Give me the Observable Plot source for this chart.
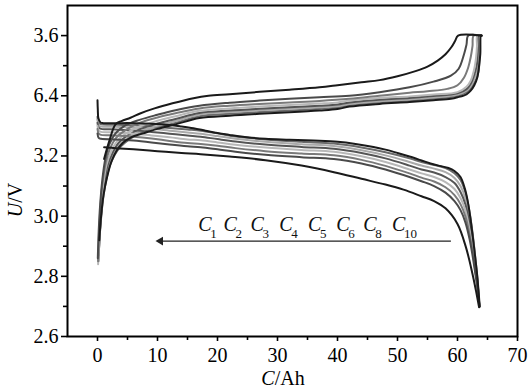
<!DOCTYPE html>
<html><head><meta charset="utf-8">
<script src="https://cdn.jsdelivr.net/npm/d3@7"></script>
<script src="https://cdn.jsdelivr.net/npm/@observablehq/plot@0.6"></script>
<style>html,body{margin:0;padding:0;background:#fff;} svg text{font-family:"Liberation Serif","DejaVu Serif",serif;}</style>
</head><body><div id="chart"></div>
<script>
// ---- data (capacity Ah, voltage V) ----
const rates = ["C1","C2","C3","C4","C5","C6","C8","C10"];
const rateColors = ["#1a1a1a","#6a6a6a","#aaaaaa","#555555","#b8b8b8","#7a7a7a","#4a4a4a","#1a1a1a"];

const chargeC10 = [[1.1,3.19],[2.0,3.252],[3.0,3.305],[4.0,3.316],[5.5,3.327],[7.2,3.342],[9.5,3.358],[12.5,3.375],[16,3.392],[18.5,3.40],[22,3.405],[27,3.413],[32,3.42],[37,3.428],[40,3.435],[44,3.445],[47,3.452],[50,3.465],[53,3.482],[55,3.497],[56.7,3.517],[58,3.538],[59,3.562],[59.6,3.582],[60.1,3.6],[64.0,3.6]];
const chargeC8 = [[0.05,2.86],[0.2,2.95],[0.45,3.04],[0.8,3.12],[1.3,3.19],[2.0,3.24],[3.0,3.275],[4.5,3.30],[7,3.32],[10,3.337],[13,3.352],[17,3.367],[22,3.377],[27,3.384],[32,3.39],[37,3.395],[42,3.40],[47,3.412],[52,3.428],[56,3.447],[58.9,3.467],[60.2,3.49],[61.1,3.539],[61.5,3.57],[61.8,3.6],[64,3.6]];
const chargeC6 = [[0.1,2.85],[0.3,2.96],[0.55,3.05],[0.9,3.12],[1.4,3.18],[2.1,3.225],[3.1,3.26],[4.6,3.285],[7,3.31],[10,3.328],[13,3.342],[17,3.358],[22,3.367],[27,3.373],[32,3.378],[37,3.383],[42,3.39],[47,3.40],[52,3.41],[55,3.415],[58.3,3.423],[60,3.435],[61.1,3.461],[61.8,3.495],[62.2,3.528],[62.5,3.565],[62.7,3.6],[64,3.6]];
const chargeC5 = [[0.1,2.84],[0.35,2.95],[0.65,3.04],[1.0,3.11],[1.5,3.17],[2.3,3.215],[3.3,3.25],[4.8,3.275],[7,3.298],[10,3.317],[13,3.332],[17,3.35],[22,3.358],[27,3.364],[32,3.369],[37,3.374],[40,3.378],[42,3.384],[47,3.393],[52,3.398],[56,3.404],[60,3.412],[61.5,3.43],[62.2,3.45],[62.8,3.49],[63.1,3.528],[63.25,3.565],[63.3,3.6],[64,3.6]];
const chargeC4 = [[0.15,2.85],[0.4,2.95],[0.75,3.04],[1.15,3.11],[1.7,3.17],[2.5,3.21],[3.5,3.243],[5,3.268],[7.2,3.29],[10,3.308],[13,3.323],[17,3.343],[22,3.351],[27,3.357],[32,3.362],[37,3.367],[40,3.371],[42,3.378],[47,3.387],[52,3.393],[56,3.399],[60,3.408],[61.5,3.422],[62.2,3.44],[62.8,3.47],[63.2,3.5],[63.4,3.55],[63.5,3.6],[64,3.6]];
const chargeC3 = [[0.2,2.87],[0.45,2.96],[0.85,3.05],[1.3,3.115],[1.9,3.17],[2.7,3.205],[3.7,3.237],[5.2,3.262],[7.4,3.284],[10,3.30],[13,3.316],[17,3.338],[22,3.346],[27,3.352],[32,3.357],[37,3.362],[40,3.366],[42,3.373],[47,3.382],[52,3.388],[56,3.394],[60,3.404],[61.5,3.417],[62.2,3.432],[62.9,3.46],[63.4,3.49],[63.6,3.55],[63.7,3.6],[64,3.6]];
const chargeC2 = [[0.25,2.89],[0.5,2.97],[0.95,3.06],[1.45,3.12],[2.1,3.17],[2.9,3.205],[3.9,3.232],[5.4,3.257],[7.5,3.279],[10,3.295],[13,3.31],[17,3.332],[22,3.34],[27,3.346],[32,3.351],[37,3.357],[40,3.361],[42,3.369],[47,3.378],[52,3.384],[56,3.39],[60,3.40],[61.5,3.412],[62.2,3.425],[63,3.45],[63.5,3.48],[63.7,3.54],[63.8,3.6],[64,3.6]];
const chargeC1 = [[0.3,2.92],[0.6,3.0],[1.0,3.07],[1.6,3.13],[2.3,3.18],[3.2,3.218],[4.2,3.243],[5.6,3.262],[7.6,3.275],[10,3.29],[13,3.305],[17,3.326],[22,3.334],[27,3.34],[32,3.345],[37,3.351],[40,3.356],[42,3.364],[47,3.373],[52,3.379],[56,3.385],[58.9,3.39],[60,3.395],[61.5,3.405],[62.2,3.417],[62.8,3.435],[63.3,3.461],[63.6,3.5],[63.8,3.539],[63.9,3.6],[64,3.6]];

const dischargeC1 = [[0,3.385],[0.05,3.355],[0.15,3.325],[0.5,3.311],[1,3.309],[3,3.309],[6,3.309],[9,3.307],[12,3.303],[14,3.298],[16,3.292],[18,3.284],[20,3.276],[22,3.27],[25,3.262],[28,3.257],[32,3.254],[36,3.251],[40,3.247],[43,3.24],[46,3.23],[48,3.221],[50,3.21],[52,3.198],[54,3.185],[55.5,3.175],[57,3.167],[58.5,3.16],[59.5,3.15],[60.5,3.13],[61.2,3.093],[61.7,3.05],[62.1,3.0],[62.5,2.94],[63.0,2.855],[63.3,2.8],[63.7,2.7]];
const dischargeC2 = [[0,3.33],[0.2,3.31],[0.6,3.305],[3,3.304],[6,3.302],[9,3.298],[12,3.293],[15,3.288],[17.2,3.284],[20,3.275],[23,3.265],[28,3.255],[34,3.247],[39.4,3.241],[44,3.228],[48,3.212],[52,3.192],[54,3.18],[56.1,3.17],[58,3.16],[59.5,3.143],[60.5,3.12],[61.3,3.08],[62,3.015],[62.5,2.945],[63,2.855],[63.3,2.795],[63.65,2.7]];
const dischargeC3 = [[0,3.32],[0.2,3.302],[0.6,3.298],[3,3.297],[6,3.294],[9,3.29],[12,3.284],[15,3.278],[17.2,3.274],[20,3.266],[23,3.257],[28,3.247],[34,3.239],[39.4,3.233],[44,3.219],[48,3.202],[52,3.18],[54,3.168],[56.1,3.158],[58,3.146],[59.5,3.127],[60.5,3.1],[61.3,3.06],[62,2.995],[62.5,2.93],[63,2.845],[63.3,2.79],[63.65,2.7]];
const dischargeC4 = [[0,3.31],[0.2,3.294],[0.6,3.29],[3,3.288],[6,3.285],[9,3.28],[12,3.274],[15,3.268],[17.2,3.264],[20,3.256],[23,3.248],[28,3.238],[34,3.23],[39.4,3.224],[44,3.21],[48,3.192],[52,3.168],[54,3.155],[56.1,3.145],[58,3.13],[59.5,3.11],[60.5,3.08],[61.3,3.04],[62,2.975],[62.5,2.915],[63,2.835],[63.3,2.785],[63.65,2.7]];
const dischargeC5 = [[0,3.30],[0.2,3.284],[0.6,3.28],[3,3.278],[6,3.274],[9,3.268],[12,3.262],[15,3.255],[17.2,3.252],[20,3.245],[23,3.237],[28,3.228],[34,3.22],[39.4,3.214],[44,3.199],[48,3.18],[52,3.155],[54,3.142],[56.1,3.13],[58,3.113],[59.5,3.09],[60.5,3.06],[61.3,3.02],[62,2.955],[62.5,2.9],[63,2.825],[63.3,2.78],[63.65,2.7]];
const dischargeC6 = [[0,3.29],[0.2,3.274],[0.6,3.27],[3,3.268],[6,3.264],[9,3.258],[12,3.25],[15,3.243],[17.2,3.24],[20,3.234],[23,3.226],[28,3.216],[34,3.208],[39.4,3.202],[44,3.187],[48,3.167],[52,3.142],[54,3.128],[56.1,3.115],[58,3.096],[59.5,3.07],[60.5,3.04],[61.3,3.0],[62,2.94],[62.5,2.885],[63,2.815],[63.3,2.77],[63.65,2.7]];
const dischargeC8 = [[0,3.275],[0.2,3.26],[0.6,3.257],[3,3.255],[6,3.251],[9,3.245],[12,3.238],[15,3.232],[17.2,3.229],[20,3.222],[23,3.214],[28,3.204],[34,3.196],[39.4,3.19],[44,3.175],[48,3.155],[52,3.13],[54,3.116],[56.1,3.1],[58,3.078],[59.5,3.05],[60.5,3.02],[61.3,2.98],[62,2.925],[62.5,2.87],[63,2.805],[63.3,2.765],[63.65,2.7]];
const dischargeC10 = [[1.1,3.229],[3,3.226],[6,3.222],[10,3.216],[14,3.21],[17.2,3.206],[22,3.198],[28,3.186],[34,3.168],[39.4,3.146],[44,3.124],[48,3.105],[51,3.088],[54,3.066],[56.1,3.05],[58,3.026],[60,2.974],[61.4,2.897],[62.5,2.808],[63.1,2.75],[63.6,2.697]];

const xTicks = [0,10,20,30,40,50,60,70];
const xMinorTicks = [5,15,25,35,45,55,65];
const yTicks = [2.6,2.8,3.0,3.2,3.4,3.6];
const yTickLabels = ["2.6","2.8","3.0","3.2","6.4","3.6"];
const yMinorTicks = [2.7,2.9,3.1,3.3,3.5];

const arrowFromAh = 58.9, arrowToAh = 10.0, arrowU = 2.917;
const labelAh = [16.8,21.0,25.5,30.3,35.1,39.8,44.3,49.1];
const labelU = 2.952;

// ---- build table ----
const chargeSets = {C1:chargeC1,C2:chargeC2,C3:chargeC3,C4:chargeC4,C5:chargeC5,C6:chargeC6,C8:chargeC8,C10:chargeC10};
const dischargeSets = {C1:dischargeC1,C2:dischargeC2,C3:dischargeC3,C4:dischargeC4,C5:dischargeC5,C6:dischargeC6,C8:dischargeC8,C10:dischargeC10};
const drawOrder = ["C2","C3","C4","C5","C6","C8","C1","C10"];
const rows = [];
for (const r of drawOrder) {
  for (const [c,u] of dischargeSets[r]) rows.push({key:"d"+r, rate:r, c, u});
  for (const [c,u] of chargeSets[r]) rows.push({key:"c"+r, rate:r, c, u});
}
const labelRows = rates.map((r,i) => ({c: labelAh[i], u: labelU, sub: r.slice(1)}));
const FONT = "Liberation Serif";

const plot = Plot.plot({
  width: 529, height: 389,
  marginLeft: 67, marginRight: 12, marginTop: 5, marginBottom: 53,
  style: {fontFamily: FONT, fontSize: "20px", background: "#fff", color: "#000"},
  x: {domain: [-5, 70], label: null},
  y: {domain: [2.6, 3.7], label: null},
  color: {type: "ordinal", domain: rates, range: rateColors},
  marks: [
    Plot.line(rows, {x: "c", y: "u", z: "key", stroke: "rate", strokeWidth: 2, curve: "catmull-rom"}),
    Plot.link([0], {x1: () => arrowFromAh, x2: () => arrowToAh + 0.6, y1: () => arrowU, y2: () => arrowU, stroke: "#222", strokeWidth: 1.1}),
    Plot.dot([0], {x: () => arrowToAh + 0.5, y: () => arrowU, symbol: "triangle", r: 3.2, fill: "#222", stroke: "none", rotate: -90}),
    Plot.text(labelRows, {x: "c", y: "u", text: () => "C", fontFamily: FONT, fontStyle: "italic", fontSize: 20, textAnchor: "start", lineAnchor: "bottom", fill: "#111"}),
    Plot.text(labelRows, {x: "c", y: "u", text: "sub", fontFamily: FONT, fontSize: 13, textAnchor: "start", lineAnchor: "bottom", dx: 12, dy: 7, fill: "#111"}),
    Plot.axisX({ticks: xTicks, tickSize: 5, tickPadding: 6, strokeWidth: 1.6, label: null, fontFamily: FONT, fontSize: 20, tickFormat: d => String(d)}),
    Plot.axisX({ticks: xMinorTicks, tickSize: 4, strokeWidth: 1.6, label: null, tickFormat: () => ""}),
    Plot.axisY({ticks: yTicks, tickSize: 6, tickPadding: 3, strokeWidth: 1.6, label: null, fontFamily: FONT, fontSize: 20, tickFormat: d => yTickLabels[yTicks.findIndex(t => Math.abs(t - d) < 1e-9)]}),
    Plot.axisY({ticks: yMinorTicks, tickSize: 4, strokeWidth: 1.6, label: null, tickFormat: () => ""}),
    Plot.frame({stroke: "#000", strokeWidth: 2})
  ]
});
document.getElementById("chart").appendChild(plot);

// axis titles with partial italics
const svg = d3.select(plot);
const xt = svg.append("text").attr("x", 283).attr("y", 385).attr("text-anchor", "middle")
  .attr("font-family", FONT).attr("font-size", 20).attr("fill", "#000");
xt.append("tspan").attr("font-style", "italic").text("C");
xt.append("tspan").text("/Ah");
const yt = svg.append("text").attr("transform", "translate(22,200) rotate(-90)").attr("text-anchor", "middle")
  .attr("font-family", FONT).attr("font-size", 20).attr("fill", "#000");
yt.append("tspan").attr("font-style", "italic").text("U");
yt.append("tspan").text("/V");
</script>
</body></html>
